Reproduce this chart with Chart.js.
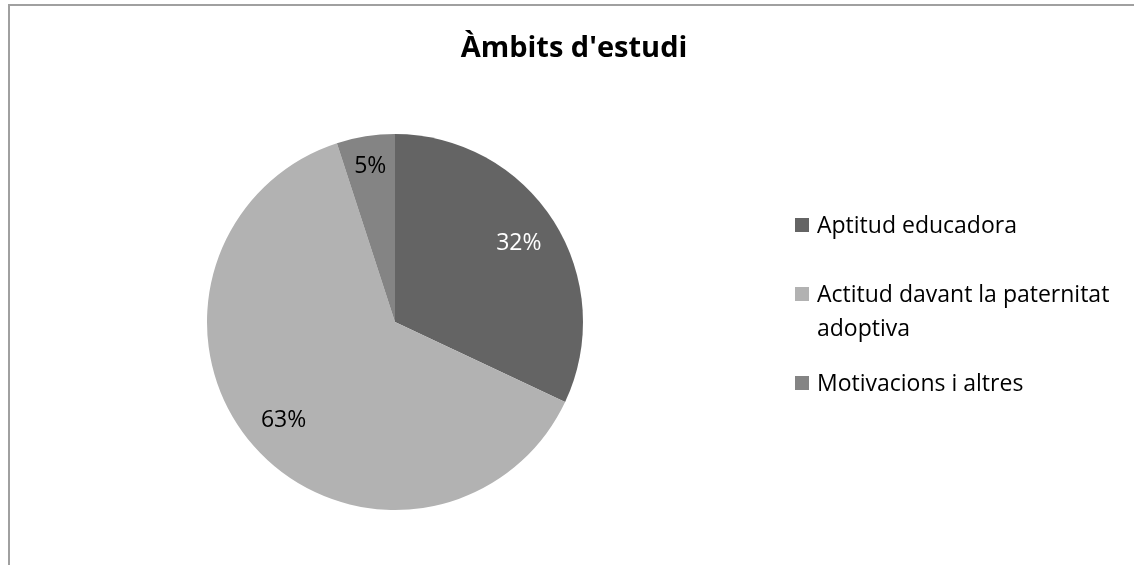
<!DOCTYPE html>
<html>
<head>
<meta charset="utf-8">
<script src="https://cdn.jsdelivr.net/npm/chart.js@4/dist/chart.umd.min.js"></script>
<style>
  html, body { margin: 0; padding: 0; background: #fff; }
  body { width: 1134px; height: 565px; position: relative; overflow: hidden; font-family: "Open Sans", sans-serif; }
  #frame { position: absolute; left: 8px; top: 4px; width: 1200px; height: 600px; border-top: 2px solid #a0a0a0; border-left: 2px solid #a0a0a0; }
  #chart { position: absolute; left: 0; top: 0; }
  #title { position: absolute; left: 0; width: 1148px; top: 26px; text-align: center; font-size: 29px; font-weight: bold; color: #000; }
  .item { position: absolute; left: 795px; font-size: 23px; line-height: 34px; color: #000; }
  .item .box { position: absolute; left: 0; top: 11px; width: 14px; height: 14px; }
  .item .txt { margin-left: 22px; width: 310px; }
</style>
</head>
<body>
<div id="frame"></div>
<canvas id="chart" width="1134" height="565"></canvas>
<div id="title">Àmbits d'estudi</div>
<div id="legend"></div>
<script>
const categories = ['Aptitud educadora', 'Actitud davant la paternitat adoptiva', 'Motivacions i altres']
const values = [32, 63, 5]
const colors = ['#646464', '#b2b2b2', '#848484']
const labelColors = ['#ffffff', '#000000', '#000000']
const labelRadius = [0.78, 0.79, 0.84]

// legend in html so the long label can wrap like the original
const legendTops = [207, 276, 365]
const legend = document.getElementById('legend')
categories.forEach((c, i) => {
  const item = document.createElement('div')
  item.className = 'item'
  item.style.top = legendTops[i] + 'px'
  item.innerHTML = '<span class="box" style="background:' + colors[i] + '"></span><div class="txt"></div>'
  item.querySelector('.txt').textContent = c
  legend.appendChild(item)
})

const pctLabels = {
  id: 'pctLabels',
  afterDatasetsDraw(chart) {
    const ctx = chart.ctx
    const meta = chart.getDatasetMeta(0)
    const total = values.reduce((a, b) => a + b, 0)
    ctx.save()
    ctx.font = '23px "Open Sans"'
    ctx.textAlign = 'center'
    ctx.textBaseline = 'middle'
    meta.data.forEach((arc, i) => {
      const p = arc.getProps(['x', 'y', 'startAngle', 'endAngle', 'outerRadius'], true)
      const mid = (p.startAngle + p.endAngle) / 2
      const r = p.outerRadius * labelRadius[i]
      ctx.fillStyle = labelColors[i]
      ctx.fillText(Math.round(values[i] / total * 100) + '%', p.x + Math.cos(mid) * r, p.y + Math.sin(mid) * r)
    })
    ctx.restore()
  }
}

const ctx = document.getElementById('chart').getContext('2d')
new Chart(ctx, {
  type: 'pie',
  data: {
    labels: categories,
    datasets: [{
      data: values,
      backgroundColor: colors,
      borderWidth: 0
    }]
  },
  options: {
    responsive: false,
    animation: false,
    layout: { padding: { left: 207, right: 551, top: 134, bottom: 55 } },
    plugins: {
      legend: { display: false },
      tooltip: { enabled: false }
    }
  },
  plugins: [pctLabels]
})
</script>
</body>
</html>
